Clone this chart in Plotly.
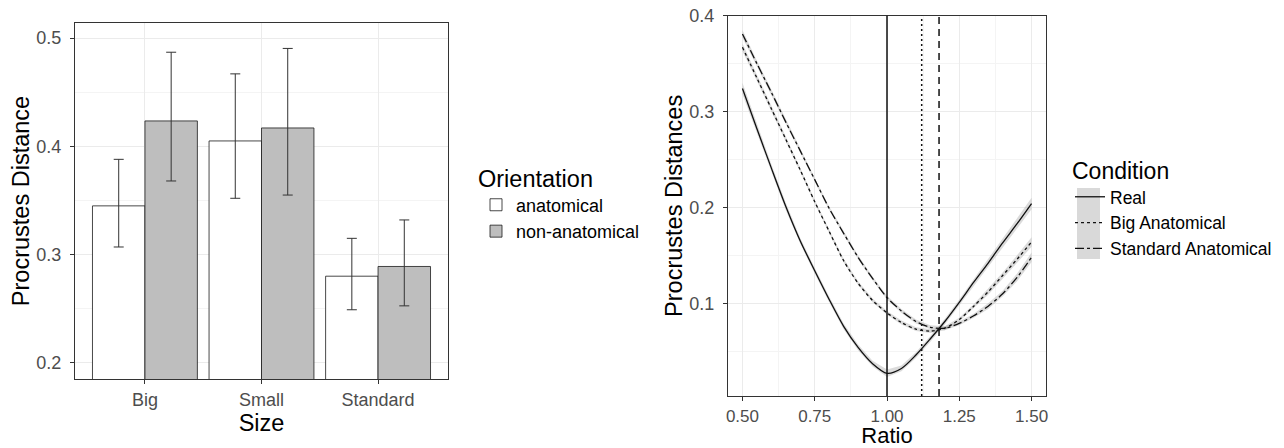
import plotly.graph_objects as go

# ---------------- data: left panel ----------------
sizes = ["Big", "Small", "Standard"]
orientations = ["anatomical", "non-anatomical"]
means = {
    "anatomical": [0.345, 0.405, 0.280],
    "non-anatomical": [0.4235, 0.417, 0.289],
}
upper = {
    "anatomical": [0.388, 0.467, 0.315],
    "non-anatomical": [0.487, 0.4905, 0.332],
}
lower = {
    "anatomical": [0.307, 0.352, 0.249],
    "non-anatomical": [0.368, 0.355, 0.2526],
}

# ---------------- data: right panel ----------------
ratio = [0.50, 0.55, 0.60, 0.65, 0.70, 0.75, 0.80, 0.85, 0.90, 0.95, 1.00,
         1.05, 1.10, 1.15, 1.20, 1.25, 1.30, 1.35, 1.40, 1.45, 1.50]
conditions = ["Real", "Big Anatomical", "Standard Anatomical"]
dist = {
    "Real": [0.324, 0.282, 0.241, 0.201, 0.165, 0.134, 0.104, 0.076, 0.054, 0.037, 0.027,
             0.032, 0.046, 0.063, 0.081, 0.101, 0.122, 0.142, 0.163, 0.183, 0.204],
    "Big Anatomical": [0.367, 0.335, 0.303, 0.271, 0.239, 0.206, 0.175, 0.1445, 0.121, 0.103, 0.090,
                       0.080, 0.073, 0.071, 0.074, 0.083, 0.097, 0.112, 0.129, 0.146, 0.164],
    "Standard Anatomical": [0.381, 0.350, 0.320, 0.289, 0.259, 0.229, 0.199, 0.173, 0.148, 0.126, 0.106,
                            0.092, 0.081, 0.075, 0.074, 0.079, 0.087, 0.097, 0.110, 0.127, 0.148],
}
se = {
    "Real": [0.006, 0.005, 0.004, 0.004, 0.003, 0.003, 0.003, 0.003, 0.003, 0.003, 0.004,
             0.003, 0.003, 0.003, 0.003, 0.003, 0.003, 0.004, 0.004, 0.005, 0.006],
    "Big Anatomical": [0.004, 0.003, 0.003, 0.003, 0.002, 0.002, 0.002, 0.002, 0.002, 0.002, 0.002,
                       0.002, 0.002, 0.002, 0.002, 0.002, 0.002, 0.003, 0.003, 0.004, 0.005],
    "Standard Anatomical": [0.004, 0.003, 0.003, 0.003, 0.002, 0.002, 0.002, 0.002, 0.002, 0.002, 0.002,
                            0.002, 0.002, 0.002, 0.002, 0.002, 0.002, 0.003, 0.003, 0.004, 0.005],
}
minima = {"Real": 1.00, "Big Anatomical": 1.12, "Standard Anatomical": 1.18}

# ---------------- styling ----------------
W, H = 1284, 448
FONT = "Liberation Sans, Arial, sans-serif"
TICKC = "#4D4D4D"
GRID = "#EBEBEB"
MINOR = "#F4F4F4"
FRAME = "#333333"
bar_fill = {"anatomical": "#FFFFFF", "non-anatomical": "#BEBEBE"}
dash = {"Real": "solid", "Big Anatomical": "dot", "Standard Anatomical": "dashdot"}
vdash = {"Real": "solid", "Big Anatomical": "2px,3px", "Standard Anatomical": "7px,5px"}


def px_x(p):
    return p / W


def px_y(p):
    return 1 - p / H


fig = go.Figure()

for o in orientations:
    m = means[o]
    fig.add_trace(go.Bar(
        x=sizes, y=m, name=o, offsetgroup=o,
        marker=dict(color=bar_fill[o], line=dict(color="#1A1A1A", width=0.8)),
        error_y=dict(type="data", symmetric=False,
                     array=[u - v for u, v in zip(upper[o], m)],
                     arrayminus=[v - l for v, l in zip(m, lower[o])],
                     color="#333333", thickness=1, width=5),
        xaxis="x", yaxis="y", legend="legend",
    ))

for c in conditions:
    y = dist[c]
    hi = [a + b for a, b in zip(y, se[c])]
    lo = [a - b for a, b in zip(y, se[c])]
    fig.add_trace(go.Scatter(
        x=ratio + ratio[::-1], y=hi + lo[::-1], fill="toself",
        fillcolor="rgba(153,153,153,0.35)", line=dict(width=0),
        hoverinfo="skip", showlegend=False, xaxis="x2", yaxis="y2",
    ))
for c in conditions:
    fig.add_trace(go.Scatter(
        x=ratio, y=dist[c], mode="lines", name=c,
        line=dict(color="#111111", width=1.3, dash=dash[c], shape="spline", smoothing=0.8),
        xaxis="x2", yaxis="y2", legend="legend2",
    ))

shapes = []
for c in conditions:
    shapes.append(dict(type="line", xref="x2", yref="y2 domain", x0=minima[c], x1=minima[c],
                       y0=0, y1=1, line=dict(color="#111111", width=1.5, dash=vdash[c]),
                       layer="above"))
# grey key background of the Condition legend
shapes.append(dict(type="rect", xref="paper", yref="paper",
                   x0=px_x(1077), x1=px_x(1100), y0=px_y(259), y1=px_y(188),
                   fillcolor="#D9D9D9", line=dict(width=0), layer="below"))

axis_common = dict(
    showline=True, linecolor=FRAME, linewidth=1.2, mirror=True,
    ticks="outside", ticklen=4, tickcolor=FRAME, tickwidth=1,
    tickfont=dict(family=FONT, size=18, color=TICKC),
    showgrid=True, gridcolor=GRID, gridwidth=1, zeroline=False,
    automargin=False,
)
TITLE_FONT = dict(family=FONT, size=23.5, color="#000000")

fig.update_layout(
    width=W, height=H,
    margin=dict(l=0, r=0, t=0, b=0),
    paper_bgcolor="white", plot_bgcolor="white",
    font=dict(family=FONT, color="#000000"),
    barmode="group", bargap=0.1, bargroupgap=0,
    shapes=shapes,
    xaxis=dict(axis_common, domain=[px_x(75), px_x(448)], anchor="y",
               type="category", range=[-0.6, 2.6],
               title=dict(text="Size", font=TITLE_FONT, standoff=4)),
    yaxis=dict(axis_common, domain=[px_y(379), px_y(23)], anchor="x",
               range=[0.185, 0.514], tickvals=[0.2, 0.3, 0.4, 0.5],
               ticktext=["0.2", "0.3", "0.4", "0.5"], ticklabelstandoff=5,
               minor=dict(tickvals=[0.25, 0.35, 0.45], showgrid=True, gridcolor=MINOR, ticks=""),
               title=dict(text="Procrustes Distance", font=TITLE_FONT, standoff=0)),
    xaxis2=dict(axis_common, domain=[px_x(728), px_x(1046)], anchor="y2",
                range=[0.45, 1.55], tickvals=[0.5, 0.75, 1.0, 1.25, 1.5],
                ticktext=["0.50", "0.75", "1.00", "1.25", "1.50"],
                tickfont=dict(family=FONT, size=17, color=TICKC),
                minor=dict(tickvals=[0.625, 0.875, 1.125, 1.375], showgrid=True, gridcolor=MINOR, ticks=""),
                title=dict(text="Ratio", font=dict(family=FONT, size=22, color="#000000"), standoff=5)),
    yaxis2=dict(axis_common, domain=[px_y(396), px_y(15.7)], anchor="x2",
                range=[0.0033, 0.4], tickvals=[0.1, 0.2, 0.3, 0.4],
                ticktext=["0.1", "0.2", "0.3", "0.4"], ticklabelstandoff=5,
                minor=dict(tickvals=[0.05, 0.15, 0.25, 0.35], showgrid=True, gridcolor=MINOR, ticks=""),
                title=dict(text="Procrustes Distances", font=TITLE_FONT, standoff=0)),
    legend=dict(x=px_x(476), y=px_y(156), xanchor="left", yanchor="top",
                title=dict(text="Orientation", font=dict(family=FONT, size=23.5)),
                font=dict(family=FONT, size=18), bgcolor="rgba(0,0,0,0)",
                itemwidth=30, tracegroupgap=0),
    legend2=dict(x=px_x(1070), y=px_y(149), xanchor="left", yanchor="top",
                 title=dict(text="Condition", font=dict(family=FONT, size=23)),
                 font=dict(family=FONT, size=17.5), bgcolor="rgba(0,0,0,0)",
                 itemwidth=30, tracegroupgap=0),
)

fig.write_html("out.html", config={"displayModeBar": False},
               post_script="document.body.style.margin='0';document.body.style.overflow='hidden';")
